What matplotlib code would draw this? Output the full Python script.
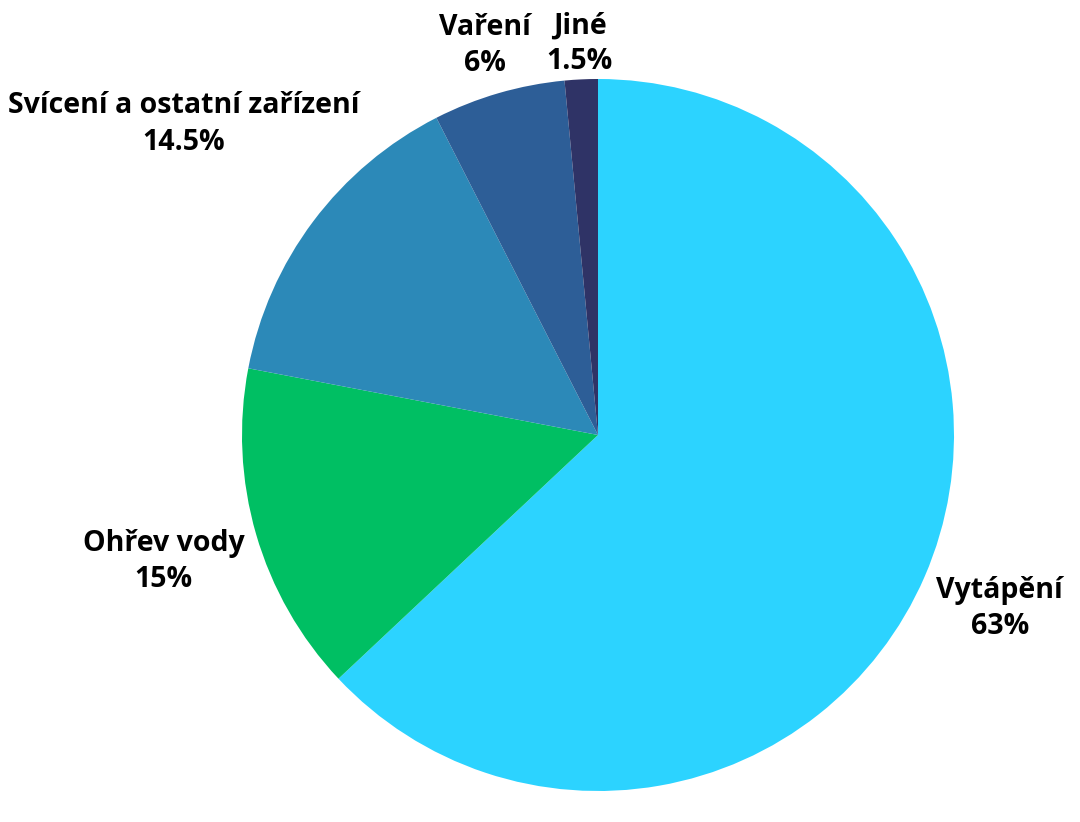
import matplotlib
matplotlib.use("Agg")
import matplotlib.pyplot as plt
import numpy as np

categories = ["Vytápění", "Ohřev vody", "Svícení a ostatní zařízení", "Vaření", "Jiné"]
values = [63, 15, 14.5, 6, 1.5]
value_labels = ["63%", "15%", "14.5%", "6%", "1.5%"]
colors = ["#2CD3FF", "#00BF63", "#2C89B8", "#2D5E97", "#2F3366"]
label_dist = [1.23, 1.27, 1.455, 1.14, 1.10]

W, H = 1080, 822
fig = plt.figure(figsize=(W / 100, H / 100), dpi=100)
cx, cy, r = 598, 435, 356
ax = fig.add_axes([(cx - r) / W, (H - cy - r) / H, 2 * r / W, 2 * r / H])

wedges, _ = ax.pie(values, colors=colors, startangle=90, counterclock=False,
                   radius=1, wedgeprops=dict(linewidth=0),
                   frame=True)
ax.set_xlim(-1, 1)
ax.set_ylim(-1, 1)
ax.set_aspect("equal")
ax.axis("off")

for w, cat, vl, d in zip(wedges, categories, value_labels, label_dist):
    ang = np.deg2rad((w.theta1 + w.theta2) / 2)
    x, y = d * np.cos(ang), d * np.sin(ang)
    ax.text(x, y, f"{cat}\n{vl}", ha="center", va="center", fontsize=20.5,
            fontweight="bold", family=["Open Sans", "DejaVu Sans"],
            linespacing=1.32, color="#000000", clip_on=False)

fig.savefig("out.png", dpi=100, facecolor="white")
